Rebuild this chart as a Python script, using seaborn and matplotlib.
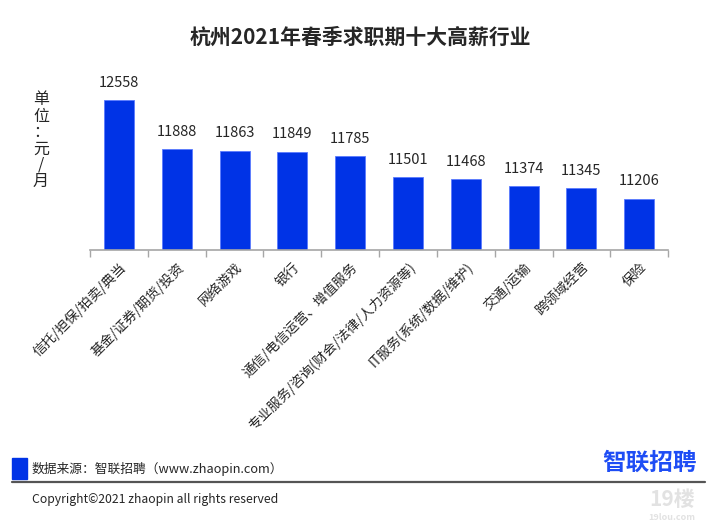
"""Top-10 high-salary industries in Hangzhou, spring 2021 job-hunting season."""

import matplotlib

matplotlib.use("Agg")
import matplotlib.pyplot as plt  # noqa: E402
import pandas as pd  # noqa: E402
import seaborn as sns  # noqa: E402
from matplotlib.patches import Rectangle  # noqa: E402
from matplotlib.ticker import FixedLocator  # noqa: E402

BLUE = "#0033E6"
AXIS_GREY = "#A6A6A6"
TEXT = "#262626"

industries = [
    "信托/担保/拍卖/典当",
    "基金/证券/期货/投资",
    "网络游戏",
    "银行",
    "通信/电信运营、增值服务",
    "专业服务/咨询(财会/法律/人力资源等)",
    "IT服务(系统/数据/维护)",
    "交通/运输",
    "跨领域经营",
    "保险",
]
salary = [12558, 11888, 11863, 11849, 11785, 11501, 11468, 11374, 11345, 11206]

sns.set_theme(style="white")
plt.rcParams["font.family"] = ["Noto Sans CJK SC", "DejaVu Sans"]

df = pd.DataFrame({"industry": industries, "salary": salary})

fig = plt.figure(figsize=(7.2, 5.31), dpi=100)
ax = fig.add_axes([0.125, 0.529, 0.803, 0.33])
sns.barplot(data=df, x="industry", y="salary", color=BLUE, saturation=1, width=0.52,
            edgecolor="#5A7BFF", linewidth=0.6, ax=ax)

ax.set_ylim(10500, 12900)
ax.set_xlim(-0.5, len(industries) - 0.5)
ax.set(xlabel="", ylabel="")
ax.set_yticks([])
for side in ("left", "right", "top"):
    ax.spines[side].set_visible(False)
ax.spines["bottom"].set_color(AXIS_GREY)
ax.spines["bottom"].set_linewidth(1.2)

ax.xaxis.set_minor_locator(FixedLocator([i - 0.5 for i in range(len(industries) + 1)]))
ax.tick_params(axis="x", which="minor", bottom=True, length=5, width=1, color=AXIS_GREY)
ax.tick_params(axis="x", which="major", bottom=False, length=0, pad=7)
ax.set_xticks(range(len(industries)))
ax.set_xticklabels(industries, rotation=45, ha="right", va="top", rotation_mode="anchor",
                   fontsize=9.8, color=TEXT)

for i, v in enumerate(salary):
    ax.text(i, v + 140, f"{v}", ha="center", va="bottom", fontsize=10.5, color=TEXT)

fig.text(0.5, 0.93, "杭州2021年春季求职期十大高薪行业", ha="center", va="center",
         fontsize=15, fontweight="bold", color=TEXT)
fig.text(0.057, 0.735, "单\n位\n：\n元\n/\n月", ha="center", va="center",
         fontsize=11.5, linespacing=0.95, color=TEXT)

# footer
fig.patches.append(Rectangle((12 / 720, 1 - 479 / 531), 15 / 720, 21 / 531,
                             transform=fig.transFigure, color=BLUE))
fig.text(32 / 720, 1 - 469 / 531, "数据来源：智联招聘（www.zhaopin.com）", ha="left",
         va="center", fontsize=9.2, color=TEXT)
fig.lines.append(plt.Line2D([12 / 720, 705 / 720], [1 - 482 / 531] * 2,
                            transform=fig.transFigure, color="#555555", lw=1.6))
fig.text(32 / 720, 1 - 499 / 531, "Copyright©2021 zhaopin all rights reserved", ha="left",
         va="center", fontsize=8.8, color=TEXT)
fig.text(697 / 720, 1 - 463 / 531, "智联招聘", ha="right", va="center", fontsize=17,
         fontweight="bold", color="#1E4DF5")
fig.text(672 / 720, 1 - 500 / 531, "19楼", ha="center", va="center", fontsize=15,
         fontweight="bold", color="#E2E2E2")
fig.text(672 / 720, 1 - 518 / 531, "19lou.com", ha="center", va="center", fontsize=6.5,
         fontweight="bold", color="#E2E2E2")

fig.savefig("out.png", dpi=100, facecolor="white")
